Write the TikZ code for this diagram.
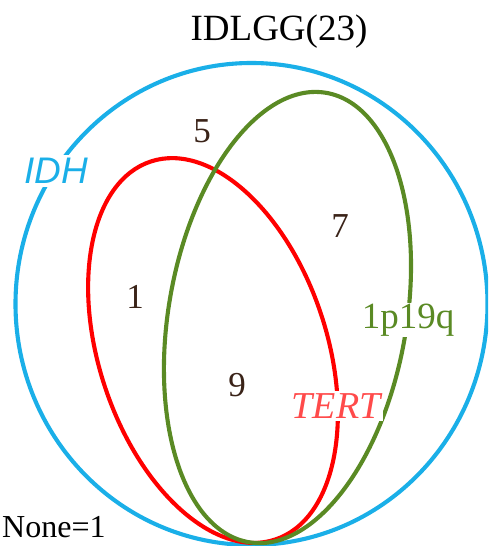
\documentclass[tikz,border=0pt]{standalone}
\usepackage{fontspec}
\setmainfont{Liberation Serif}
\newfontfamily\labsans{Liberation Sans}
\begin{document}
\begin{tikzpicture}[x=1pt,y=1pt,
  ring/.style={line width=4.1pt},
  count/.style={font=\fontsize{35}{35}\selectfont, text=numbrown, inner sep=0pt},
  setlab/.style={fill=white, inner sep=3pt, font=\fontsize{37}{37}\selectfont}]
\definecolor{idhblue}{HTML}{1AAFE8}
\definecolor{tertred}{HTML}{FF0000}
\definecolor{tertlab}{HTML}{FF4A4A}
\definecolor{pqgreen}{HTML}{5A8A24}
\definecolor{numbrown}{HTML}{3A2318}
\useasboundingbox (0,0) rectangle (488,546);
\begin{scope}
\clip (0,0) rectangle (488,546);
\coordinate (cb) at (251.5,242);
\coordinate (cr) at (213,195.5);
\coordinate (cg) at (287.5,228.5);
\draw[ring, idhblue] (cb) ellipse [x radius=236, y radius=241];
\draw[ring, tertred, rotate around={18.2:(cr)}] (cr) ellipse [x radius=114, y radius=199];
\draw[ring, pqgreen, rotate around={-9.8:(cg)}] (cg) ellipse [x radius=119, y radius=228];
\end{scope}
\node[anchor=base, inner sep=0pt, font=\fontsize{37}{37}\selectfont] (title) at (279,505) {IDLGG(23)};
\node[setlab, text=idhblue, font=\labsans\itshape\fontsize{37}{37}\selectfont] (idh) at (56,375) {IDH};
\node[setlab, text=tertlab, font=\itshape\fontsize{38}{38}\selectfont] (tert) at (336,140) {TERT};
\node[setlab, text=pqgreen, inner sep=1pt] (pq) at (408,226) {1p19q};
\node[count] (n5) at (202,415) {5};
\node[count] (n7) at (340,320) {7};
\node[count] (n1) at (135,249) {1};
\node[count] (n9) at (237,161) {9};
\node[anchor=base west, inner sep=0pt, font=\fontsize{32}{32}\selectfont] (none) at (2,9) {None=1};
\end{tikzpicture}
\end{document}
